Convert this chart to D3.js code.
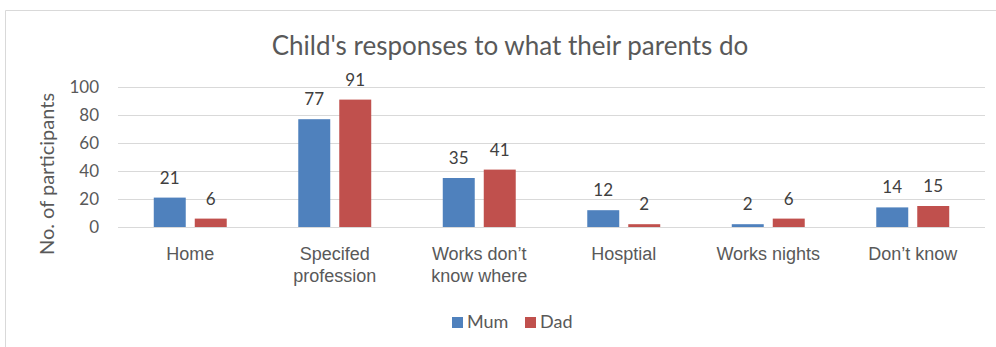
<!DOCTYPE html>
<html>
<head>
<meta charset="utf-8">
<script src="https://cdn.jsdelivr.net/npm/d3@7"></script>
<style>
  html, body { margin: 0; padding: 0; background: #fff; }
  svg { display: block; font-family: Lato, "Open Sans", sans-serif; }
</style>
</head>
<body>
<svg id="chart" width="996" height="347"></svg>
<script>
const categories = [
  ["Home"],
  ["Specifed", "profession"],
  ["Works don\u2019t", "know where"],
  ["Hosptial"],
  ["Works nights"],
  ["Don\u2019t know"]
];
const seriesNames = ["Mum", "Dad"];
const mumValues = [21, 77, 35, 12, 2, 14];
const dadValues = [6, 91, 41, 2, 6, 15];
const yTicks = [0, 20, 40, 60, 80, 100];

const colors = { Mum: "#4F81BD", Dad: "#C0504D" };
const textColor = "#595959";

const svg = d3.select("#chart");
const W = 996, H = 347;
const plot = { left: 118, right: 985, top: 87, bottom: 227 };

// chart frame (runs past the right and bottom edges)
svg.append("path")
  .attr("d", `M5.5,${H + 2} V10.5 H${W + 2}`)
  .attr("fill", "none")
  .attr("stroke", "#d9d9d9")
  .attr("stroke-width", 1);

// title
svg.append("text")
  .attr("x", 510).attr("y", 55)
  .attr("text-anchor", "middle")
  .attr("fill", textColor)
  .attr("font-size", 26)
  .text("Child's responses to what their parents do");

const x0 = d3.scaleBand()
  .domain(d3.range(categories.length))
  .range([plot.left, plot.right])
  .paddingInner(0.495)
  .paddingOuter(0.2475);

const x1 = d3.scaleBand()
  .domain(seriesNames)
  .range([0, x0.bandwidth()])
  .paddingInner(0.22)
  .paddingOuter(0);

const y = d3.scaleLinear().domain([0, 100]).range([plot.bottom, plot.top]);

// gridlines
svg.append("g")
  .selectAll("line")
  .data(yTicks)
  .join("line")
  .attr("x1", plot.left).attr("x2", plot.right)
  .attr("y1", d => Math.round(y(d)) + 0.5)
  .attr("y2", d => Math.round(y(d)) + 0.5)
  .attr("stroke", "#d9d9d9")
  .attr("stroke-width", 1);

// y axis tick labels
const yAxis = d3.axisLeft(y).tickValues(yTicks).tickSize(0).tickPadding(0);
const gy = svg.append("g")
  .attr("transform", `translate(99,0)`)
  .call(yAxis);
gy.select(".domain").remove();
gy.selectAll("text")
  .attr("fill", textColor)
  .attr("font-size", 17)
  .attr("font-family", "Lato, 'Open Sans', sans-serif");

// y axis title
svg.append("text")
  .attr("transform", "translate(54,174) rotate(-90)")
  .attr("text-anchor", "middle")
  .attr("fill", textColor)
  .attr("font-size", 20)
  .text("No. of participants");

// category labels
const xAxis = d3.axisBottom(x0).tickSize(0).tickFormat(() => "");
const gx = svg.append("g")
  .attr("transform", `translate(0,${plot.bottom})`)
  .call(xAxis);
gx.select(".domain").remove();
gx.selectAll(".tick").each(function (d) {
  const t = d3.select(this).append("text")
    .attr("text-anchor", "middle")
    .attr("fill", textColor)
    .attr("font-size", 18);
  categories[d].forEach((line, i) => {
    t.append("tspan").attr("x", 0).attr("y", 33 + i * 22).text(line);
  });
});

// bars
const rows = categories.map((c, i) => ({ i, Mum: mumValues[i], Dad: dadValues[i] }));
const groups = svg.append("g")
  .selectAll("g")
  .data(rows)
  .join("g")
  .attr("transform", d => `translate(${x0(d.i)},0)`);

groups.selectAll("rect")
  .data(d => seriesNames.map(s => ({ s, v: d[s] })))
  .join("rect")
  .attr("x", d => x1(d.s))
  .attr("width", x1.bandwidth())
  .attr("y", d => y(d.v))
  .attr("height", d => y(0) - y(d.v))
  .attr("fill", d => colors[d.s]);

// data labels
groups.selectAll("text.val")
  .data(d => seriesNames.map(s => ({ s, v: d[s] })))
  .join("text")
  .attr("class", "val")
  .attr("x", d => x1(d.s) + x1.bandwidth() / 2)
  .attr("y", d => y(d.v) - 14)
  .attr("text-anchor", "middle")
  .attr("fill", "#404040")
  .attr("font-size", 17)
  .text(d => d.v);

// legend
const legend = svg.append("g").attr("transform", "translate(452,317)");
const legendItems = [{ s: "Mum", x: 0 }, { s: "Dad", x: 73 }];
legendItems.forEach(item => {
  legend.append("rect")
    .attr("x", item.x).attr("y", 0)
    .attr("width", 11).attr("height", 11)
    .attr("fill", colors[item.s]);
  legend.append("text")
    .attr("x", item.x + 15).attr("y", 11)
    .attr("fill", textColor)
    .attr("font-size", 18)
    .text(item.s);
});
</script>
</body>
</html>
